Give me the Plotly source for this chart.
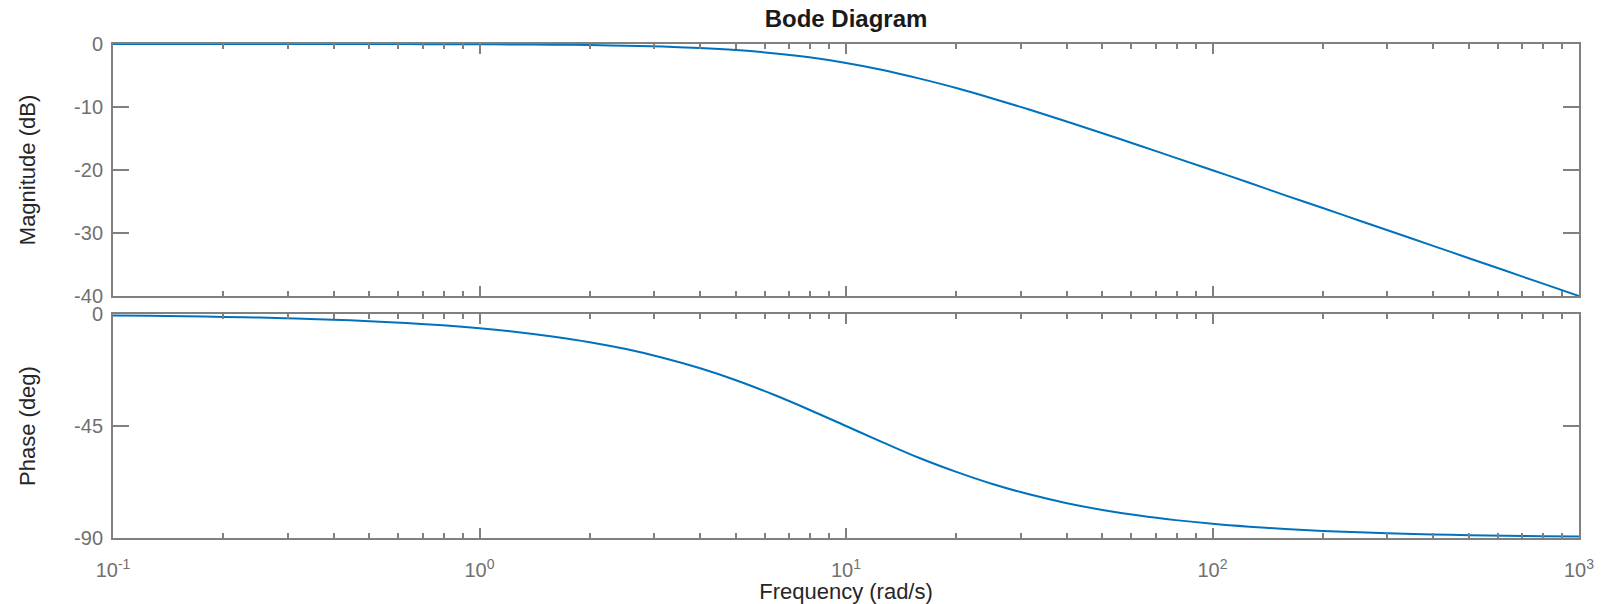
import plotly.graph_objects as go
from plotly.subplots import make_subplots

# Frequency samples (rad/s)
freq = [0.1, 0.126, 0.158, 0.2, 0.251, 0.316, 0.398, 0.501, 0.631, 0.794,
        1.0, 1.26, 1.58, 2.0, 2.51, 3.16, 3.98, 5.01, 6.31, 7.94,
        10.0, 12.6, 15.8, 20.0, 25.1, 31.6, 39.8, 50.1, 63.1, 79.4,
        100.0, 126, 158, 200, 251, 316, 398, 501, 631, 794, 1000]

# Magnitude (dB)
magnitude_db = [0.0, -0.001, -0.001, -0.002, -0.003, -0.004, -0.007, -0.011, -0.017, -0.027,
                -0.043, -0.068, -0.108, -0.17, -0.266, -0.414, -0.64, -0.97, -1.46, -2.12,
                -3.01, -4.12, -5.46, -6.99, -8.64, -10.41, -12.27, -14.16, -16.11, -18.07,
                -20.04, -22.03, -24.02, -26.03, -28.01, -30.0, -32.0, -34.0, -36.0, -38.0, -40.0]

# Phase (deg)
phase_deg = [-0.57, -0.72, -0.91, -1.15, -1.44, -1.81, -2.28, -2.87, -3.61, -4.54,
             -5.71, -7.18, -9.0, -11.31, -14.09, -17.55, -21.7, -26.6, -32.25, -38.45,
             -45.0, -51.55, -57.75, -63.43, -68.3, -72.45, -75.91, -78.71, -81.0, -82.82,
             -84.29, -85.46, -86.39, -87.14, -87.72, -88.19, -88.56, -88.85, -89.09, -89.28, -89.43]

x_tickvals = [0.1, 1, 10, 100, 1000]
x_ticktext = ["10<sup>-1</sup>", "10<sup>0</sup>", "10<sup>1</sup>", "10<sup>2</sup>", "10<sup>3</sup>"]
x_minorvals = [0.2, 0.3, 0.4, 0.5, 0.6, 0.7, 0.8, 0.9,
               2, 3, 4, 5, 6, 7, 8, 9,
               20, 30, 40, 50, 60, 70, 80, 90,
               200, 300, 400, 500, 600, 700, 800, 900]
mag_ticks = [0, -10, -20, -30, -40]
mag_ticktext = ["0", "-10", "-20", "-30", "-40"]
phase_ticks = [0, -45, -90]
phase_ticktext = ["0", "-45", "-90"]

LINE = "#0072BD"
AXIS = "#808080"
FAMILY = "Liberation Sans, Arial, sans-serif"
TICKFONT = dict(family=FAMILY, size=20, color="#707070")
TITLEFONT = dict(family=FAMILY, size=22, color="#262626")

fig = make_subplots(rows=2, cols=1, shared_xaxes=False, vertical_spacing=0.0)

fig.add_trace(go.Scatter(x=freq, y=magnitude_db, mode="lines", line=dict(color=LINE, width=2, shape="spline"),
                         showlegend=False), row=1, col=1)
fig.add_trace(go.Scatter(x=freq, y=phase_deg, mode="lines", line=dict(color=LINE, width=2, shape="spline"),
                         showlegend=False), row=2, col=1)

common_x = dict(type="log", range=[-1, 3], showline=True, linecolor=AXIS, linewidth=2, mirror="ticks",
                ticks="inside", ticklen=10, tickwidth=1.5, tickcolor=AXIS,
                tickvals=x_tickvals, ticktext=x_ticktext, showgrid=False, zeroline=False,
                minor=dict(tickmode="array", tickvals=x_minorvals, ticks="inside", ticklen=5,
                           tickwidth=1.5, tickcolor=AXIS, showgrid=False),
                tickfont=TICKFONT, automargin=False)
common_y = dict(showline=True, linecolor=AXIS, linewidth=2, mirror="ticks", ticks="inside", ticklen=16,
                tickwidth=1.5, tickcolor=AXIS, showgrid=False, zeroline=False, tickfont=TICKFONT,
                ticklabelstandoff=4, automargin=False)

fig.update_layout(
    xaxis=dict(common_x, domain=[0, 1], showticklabels=False, anchor="y"),
    xaxis2=dict(common_x, domain=[0, 1], anchor="y2", ticklabelstandoff=13,
                title=dict(text="Frequency (rad/s)", font=TITLEFONT, standoff=10)),
    yaxis=dict(common_y, domain=[0.4899, 1.0], range=[-40, 0], tickvals=mag_ticks, ticktext=mag_ticktext,
               title=dict(text="Magnitude (dB)", font=TITLEFONT, standoff=32)),
    yaxis2=dict(common_y, domain=[0.0, 0.4534], range=[-90, 0], tickvals=phase_ticks, ticktext=phase_ticktext,
                title=dict(text="Phase (deg)", font=TITLEFONT, standoff=32)),
    title=dict(text="<b>Bode Diagram</b>", x=0.5, xref="paper", y=1 - 19 / 604, yanchor="middle",
               font=dict(family=FAMILY, size=24, color="#1a1a1a")),
    width=1608, height=604,
    margin=dict(l=113, r=29, t=44, b=66),
    plot_bgcolor="white", paper_bgcolor="white",
)

fig.write_html("out.html", config={"displayModeBar": False},
               post_script="document.body.style.margin='0';document.body.style.overflow='hidden';")
